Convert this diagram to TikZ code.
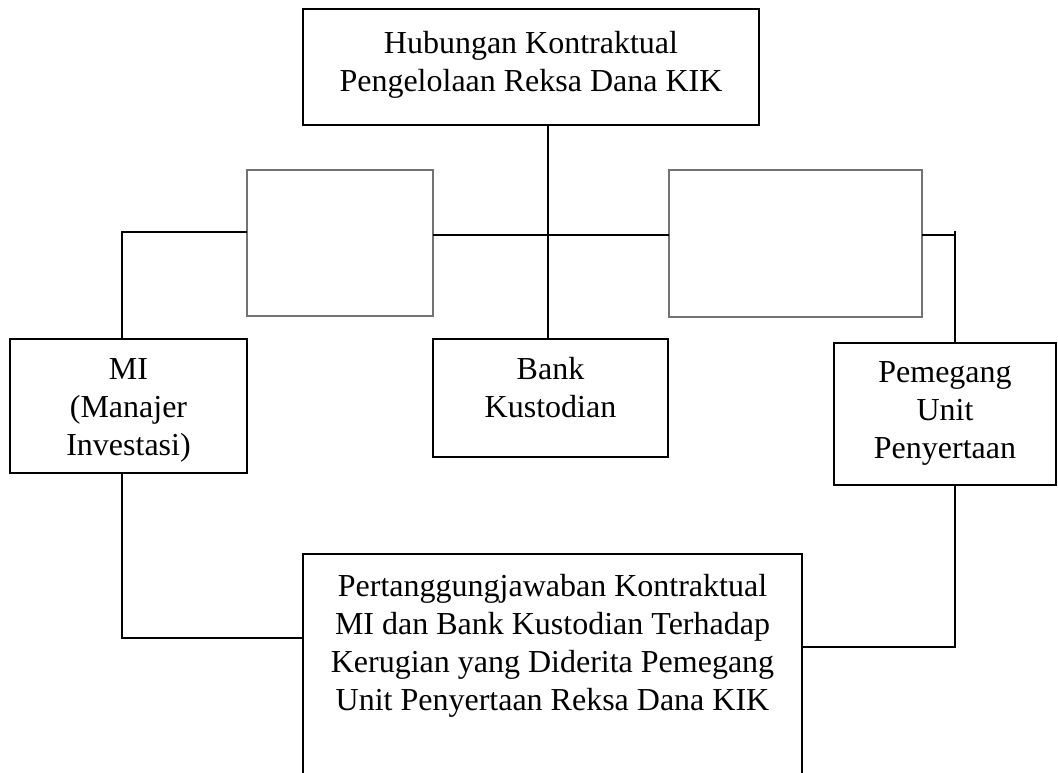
\documentclass[tikz,border=0pt]{standalone}
\usepackage{fontspec}
\setmainfont{Liberation Serif}
\usetikzlibrary{positioning}

\tikzset{
  kotak/.style={draw, line width=1.4pt, inner sep=0pt, outer sep=0pt},
  kosong/.style={draw=black!55, line width=1.4pt, inner sep=0pt, outer sep=0pt},
  teks/.style={inner sep=0pt, align=center, font=\fontsize{32}{38}\selectfont},
  garis/.style={line width=1.6pt}
}

\begin{document}
\begin{tikzpicture}[x=1pt, y=-1pt]
  \path[use as bounding box] (0,0) rectangle (1058,773);
  \clip (0,0) rectangle (1058,773);
  % kotak
  \node[kotak, minimum width=456pt, minimum height=116pt] (hub) at (531,67) {};
  \node[kosong, minimum width=186pt, minimum height=146pt] (kosongL) at (340,243) {};
  \node[kosong, minimum width=253pt, minimum height=147pt] (kosongR) at (795.5,243.5) {};
  \node[kotak, minimum width=237pt, minimum height=134pt] (mi) at (128.5,406) {};
  \node[kotak, minimum width=235pt, minimum height=118pt] (bank) at (550.5,398) {};
  \node[kotak, minimum width=222pt, minimum height=142pt] (pup) at (945,414) {};
  \node[kotak, minimum width=499pt, minimum height=246pt] (tanggung) at (552.5,677) {};
  % teks
  \node[teks, below=22pt of hub.north] (hubTxt) {Hubungan Kontraktual\\Pengelolaan Reksa Dana KIK};
  \node[teks, below=19pt of mi.north] (miTxt) {MI\\(Manajer\\Investasi)};
  \node[teks, below=18pt of bank.north] (bankTxt) {Bank\\Kustodian};
  \node[teks, below=18pt of pup.north] (pupTxt) {Pemegang\\Unit\\Penyertaan};
  \node[teks, below=20pt of tanggung.north] (tanggungTxt) {Pertanggungjawaban Kontraktual\\MI dan Bank Kustodian Terhadap\\Kerugian yang Diderita Pemegang\\Unit Penyertaan Reksa Dana KIK};
  % garis
  \coordinate (spine) at (548,235);
  \coordinate (miAtas) at (122,232);
  \coordinate (miBawah) at (122,638);
  \coordinate (pupAtas) at (955,231);
  \coordinate (pupBawah) at (955,647);
  \draw[garis] (hub.south -| spine) -- (bank.north -| spine);
  \draw[garis] (kosongL.east |- spine) -- (kosongR.west |- spine);
  \draw[garis] (kosongL.west |- miAtas) -- (miAtas) -- (mi.north -| miAtas);
  \draw[garis] (kosongR.east |- spine) -- (spine -| pupAtas);
  \draw[garis] (pupAtas) -- (pup.north -| pupAtas);
  \draw[garis] (mi.south -| miBawah) -- (miBawah) -- (tanggung.west |- miBawah);
  \draw[garis] (pup.south -| pupBawah) -- (pupBawah) -- (tanggung.east |- pupBawah);
\end{tikzpicture}
\end{document}
